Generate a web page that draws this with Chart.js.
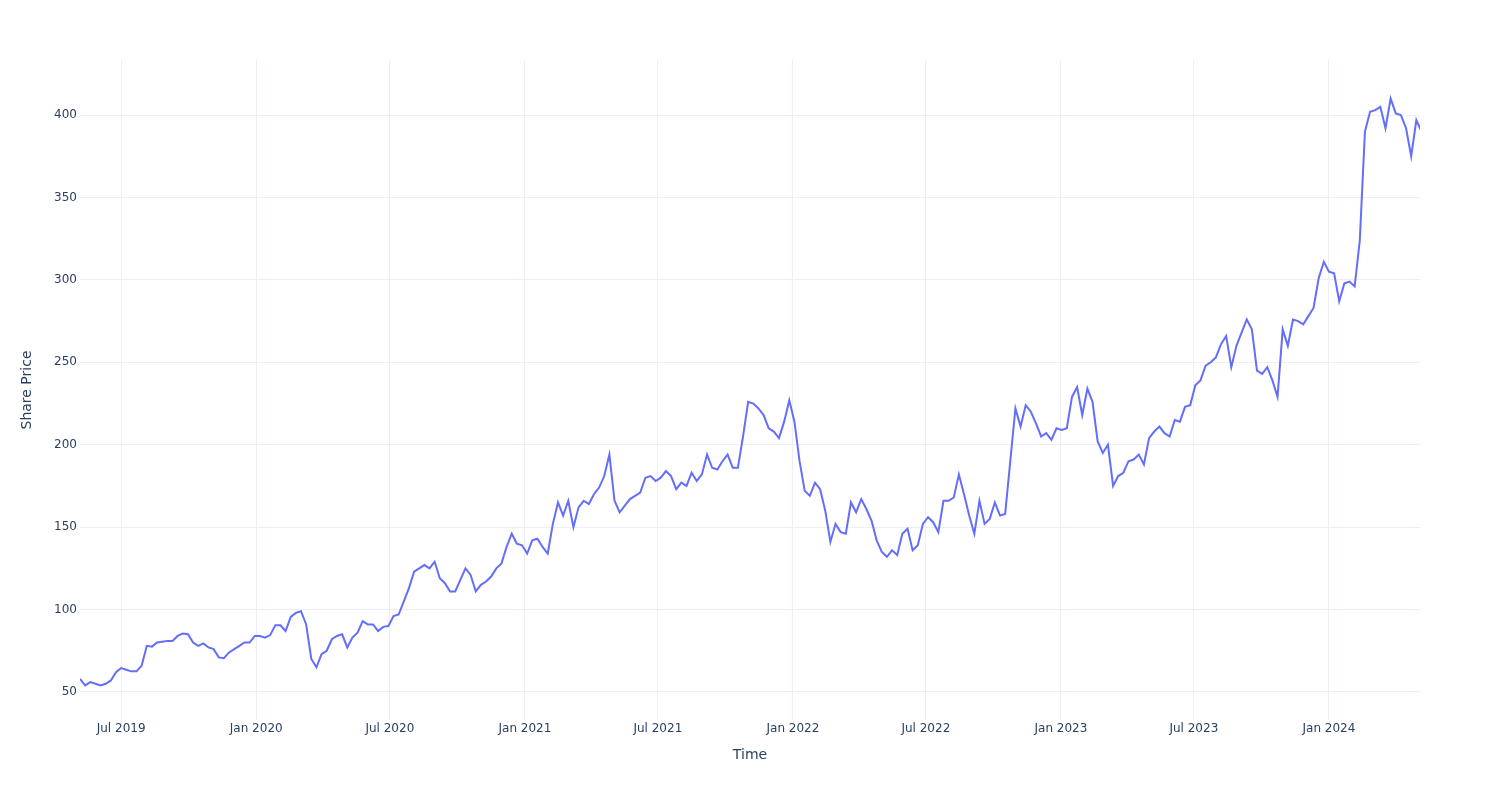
<!DOCTYPE html>
<html>
<head>
<meta charset="utf-8">
<script src="https://cdn.jsdelivr.net/npm/chart.js@4.4.1/dist/chart.umd.min.js"></script>
<style>
    html, body { margin: 0; padding: 0; background: #ffffff; }
    #priceChart { display: block; }
</style>
</head>
<body>
<canvas id="priceChart" width="1500" height="800"></canvas>
<script>
// weekly closes, first week starts on this date
const firstWeek = '2019-05-06';
const lastDay = '2024-05-04';

const close2019 = [58, 54, 56, 55, 54, 55, 57, 62, 64.5, 63.5, 62.5, 62.5, 66, 78, 77.5, 80, 80.5, 81, 81, 84,
    85.5, 85, 80, 78, 79.5, 77, 76, 71, 70.5, 74, 76, 78, 80, 80, 84];
const close2020 = [84, 83, 84.5, 90.5, 90.5, 87, 95.5, 98, 99, 91, 70, 65, 73, 75, 82, 84, 85, 77, 83, 86,
    93, 91, 91, 87, 89.5, 90, 96, 97, 105, 113, 123, 125, 127, 125, 129, 119, 116, 111, 111, 118,
    125, 121, 111, 115, 117, 120, 125, 128, 138, 146, 140, 139];
const close2021 = [134, 142, 143, 138, 134, 152, 165, 157, 166, 150, 162, 166, 164, 170, 174, 181, 194, 166, 159, 163,
    167, 169, 171, 180, 181, 178, 180, 184, 181, 173, 177, 175, 183, 178, 182, 194, 186, 185, 190, 194,
    186, 186, 205, 226, 225, 222, 218, 210, 208, 204, 214, 227];
const close2022 = [214, 190, 172, 169, 177, 173, 160, 141, 152, 147, 146, 165, 159, 167, 161, 154, 142, 135, 132, 136,
    133, 146, 149, 136, 139, 152, 156, 153, 147, 166, 166, 168, 182, 170, 157, 146, 166, 152, 155, 165,
    157, 158, 190, 222, 211, 224, 220, 213, 205, 207, 203, 210];
const close2023 = [209, 210, 229, 235, 218, 234, 226, 202, 195, 200, 175, 181, 183, 190, 191, 194, 188, 204, 208, 211,
    207, 205, 215, 214, 223, 224, 236, 239, 248, 250, 253, 261, 266, 247, 260, 268, 276, 270, 245, 243,
    247, 239, 229, 270, 260, 276, 275, 273, 278, 283, 301, 311];
const close2024 = [305, 304, 287, 298, 299, 296, 324, 390, 402, 403, 405, 392, 410, 401, 400, 392, 375, 397, 390];

const tickDates = ['2019-07-01', '2020-01-01', '2020-07-01', '2021-01-01', '2021-07-01',
    '2022-01-01', '2022-07-01', '2023-01-01', '2023-07-01', '2024-01-01'];
const tickLabels = ['Jul 2019', 'Jan 2020', 'Jul 2020', 'Jan 2021', 'Jul 2021',
    'Jan 2022', 'Jul 2022', 'Jan 2023', 'Jul 2023', 'Jan 2024'];
const priceTicks = [50, 100, 150, 200, 250, 300, 350, 400];

const DAY = 86400000;
function dayNumber(str) {
    const [y, m, d] = str.split('-').map(Number);
    return Date.UTC(y, m - 1, d) / DAY;
}

const closes = [].concat(close2019, close2020, close2021, close2022, close2023, close2024);
const start = dayNumber(firstWeek);
const points = closes.map((v, i) => ({ x: start + i * 7, y: v }));
const tickDays = tickDates.map(dayNumber);

const textColor = '#2a3f5f';
const gridColor = '#ebf0f8';
const fontFamily = '"DejaVu Sans", "Open Sans", Verdana, Arial, sans-serif';

Chart.defaults.font.family = fontFamily;
Chart.defaults.color = textColor;

const ctx = document.getElementById('priceChart').getContext('2d');
new Chart(ctx, {
    type: 'line',
    data: {
        datasets: [{
            label: 'Share Price',
            data: points,
            borderColor: '#636efa',
            borderWidth: 2,
            pointRadius: 0,
            fill: false,
            tension: 0
        }]
    },
    options: {
        responsive: false,
        animation: false,
        devicePixelRatio: 1,
        layout: { padding: { left: 0, top: 60, right: 80, bottom: 0 } },
        plugins: {
            legend: { display: false },
            tooltip: { enabled: false }
        },
        scales: {
            x: {
                type: 'linear',
                min: start,
                max: dayNumber(lastDay),
                afterFit: function (scale) { scale.height = 80; },
                afterBuildTicks: function (scale) {
                    scale.ticks = tickDays.map(v => ({ value: v }));
                },
                ticks: {
                    autoSkip: false,
                    maxRotation: 0,
                    padding: 2,
                    color: textColor,
                    font: { size: 12 },
                    callback: function (value) {
                        const idx = tickDays.indexOf(value);
                        return idx >= 0 ? tickLabels[idx] : '';
                    }
                },
                grid: { color: gridColor, lineWidth: 1, drawTicks: false },
                border: { display: false },
                title: {
                    display: true,
                    text: 'Time',
                    color: textColor,
                    font: { size: 14 },
                    padding: { top: 0, bottom: 36 }
                }
            },
            y: {
                min: 33,
                max: 433.4,
                afterFit: function (scale) { scale.width = 80; },
                afterBuildTicks: function (scale) {
                    scale.ticks = priceTicks.map(v => ({ value: v }));
                },
                ticks: {
                    padding: 3,
                    color: textColor,
                    font: { size: 12 }
                },
                grid: { color: gridColor, lineWidth: 1, drawTicks: false },
                border: { display: false },
                title: {
                    display: true,
                    text: 'Share Price',
                    color: textColor,
                    font: { size: 14 },
                    padding: { top: 19, bottom: 0 }
                }
            }
        }
    }
});
</script>
</body>
</html>
